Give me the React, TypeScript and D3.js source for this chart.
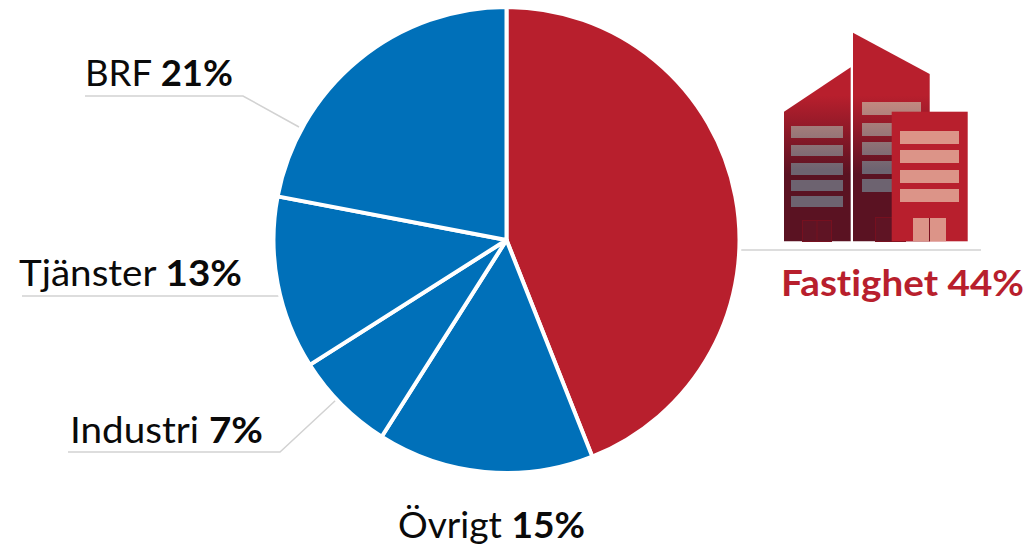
import React from "react";
import * as d3 from "d3";

const categories = ["Fastighet", "Övrigt", "Industri", "Tjänster", "BRF"];
const printedShares = [44, 15, 7, 13, 21];
const sliceSizes = [44, 15, 7, 12, 22];
const sliceColors = ["#B81F2D", "#0070B9", "#0070B9", "#0070B9", "#0070B9"];

const FONT = "Lato, Carlito, 'Open Sans', sans-serif";
const cx = 506.5, cy = 240, R = 233;

const pie = d3.pie<number>().sort(null).value((d) => d);
const arc = d3.arc<d3.PieArcDatum<number>>().innerRadius(0).outerRadius(R);

const labelLayout = [
  { x: 781, y: 296, w: 243, color: "#B81F2D", allBold: true },
  { x: 398, y: 538, w: 187, color: "#0a0a0a", allBold: false },
  { x: 70, y: 443, w: 193, color: "#0a0a0a", allBold: false },
  { x: 19, y: 286, w: 223, color: "#0a0a0a", allBold: false },
  { x: 85, y: 86, w: 148, color: "#0a0a0a", allBold: false },
];

const leaders = [
  [[741, 250], [981, 250]],
  [],
  [[68, 452], [280, 452], [336, 400]],
  [[22, 296], [279, 296]],
  [[85, 96], [243, 96], [299, 127]],
];
const lineGen = d3.line();

const win = (x: number, w: number, ys: number[][], fill: string) =>
  ys.map(([a, b], i) => <rect key={i} x={x} y={a} width={w} height={b - a} fill={fill} />);

function Building() {
  return (
    <g>
      <path d="M784,111.7 L850.7,67.3 L850.7,241.3 L784,241.3 Z" fill="url(#bld)" />
      <path d="M853,32.7 L929.7,74 L929.7,241.3 L853,241.3 Z" fill="url(#bld)" />
      {win(791, 52, [[126, 138], [145, 156], [163, 175], [180, 191], [196, 207]], "url(#win)")}
      {win(862, 59, [[102, 115], [123, 136], [142, 155], [161, 174], [179, 192]], "url(#win)")}
      <rect x={802.5} y={220.5} width={29} height={21} fill="#5F1424" stroke="#76101F" strokeWidth={1} />
      <line x1={817} x2={817} y1={220} y2={241} stroke="#76101F" />
      <rect x={875.5} y={217.5} width={30} height={24} fill="#5F1424" stroke="#76101F" strokeWidth={1} />
      <rect x={891.7} y={111.7} width={76} height={129.6} fill="#B81F2D" />
      {win(900, 59, [[131, 144], [150, 163], [170, 183], [189, 202]], "#DC9488")}
      <rect x={913} y={218} width={33} height={23.3} fill="#DC9488" />
      <line x1={929.5} x2={929.5} y1={218} y2={241.3} stroke="#7a1020" strokeWidth={1} />
    </g>
  );
}

export default function App() {
  const arcs = pie(sliceSizes);
  return (
    <svg width={1030} height={546} style={{ position: "absolute", left: 0, top: 0, background: "#fff" }}>
      <defs>
        <linearGradient id="bld" gradientUnits="userSpaceOnUse" x1={0} x2={0} y1={33} y2={241}>
          <stop offset="0.3" stopColor="#B81F2D" />
          <stop offset="0.68" stopColor="#5A1222" />
          <stop offset="1" stopColor="#5A1222" />
        </linearGradient>
        <linearGradient id="win" gradientUnits="userSpaceOnUse" x1={0} x2={0} y1={100} y2={170}>
          <stop offset="0" stopColor="#C48A80" />
          <stop offset="1" stopColor="#6D6370" />
        </linearGradient>
      </defs>
      {leaders.map((pts, i) =>
        pts.length ? (
          <path key={i} d={lineGen(pts as [number, number][]) ?? ""} fill="none" stroke="#D2D2D2" strokeWidth={1.5} />
        ) : null
      )}
      <g transform={`translate(${cx},${cy})`}>
        {arcs.map((a, i) => (
          <path key={i} d={arc(a) ?? ""} fill={sliceColors[i]} stroke="#fff" strokeWidth={4} strokeLinejoin="round" />
        ))}
      </g>
      <Building />
      {categories.map((c, i) => {
        const l = labelLayout[i];
        return (
          <text
            key={c}
            x={l.x}
            y={l.y}
            fontFamily={FONT}
            fontSize={36}
            fill={l.color}
            textLength={l.w}
            lengthAdjust="spacingAndGlyphs"
            fontWeight={l.allBold ? 700 : 400}
            style={{ fontVariantLigatures: "none" }}
          >
            {c} <tspan fontWeight={700}>{printedShares[i]}%</tspan>
          </text>
        );
      })}
    </svg>
  );
}
